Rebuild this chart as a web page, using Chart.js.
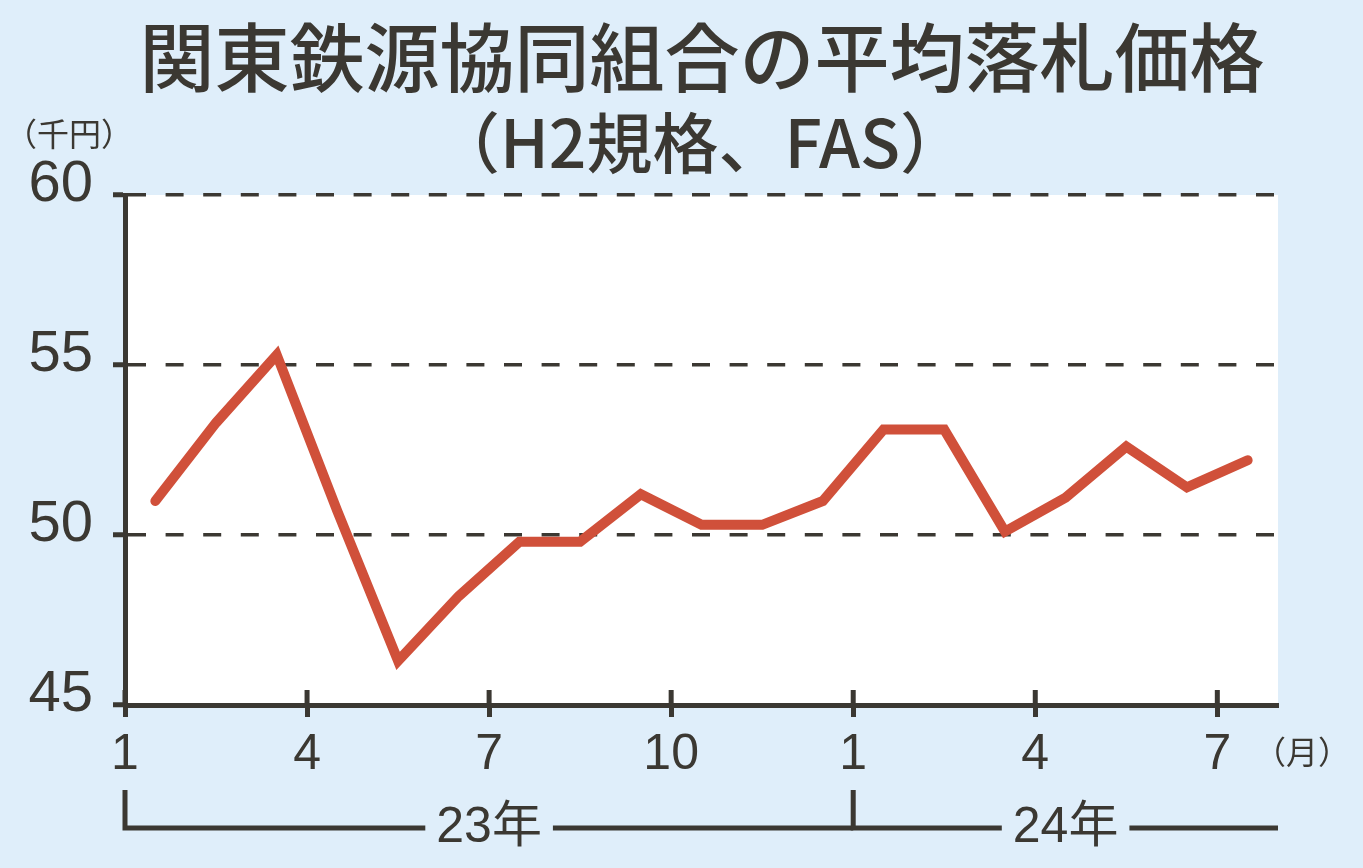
<!DOCTYPE html>
<html lang="ja">
<head>
<meta charset="utf-8">
<title>関東鉄源協同組合の平均落札価格</title>
<script src="https://cdn.jsdelivr.net/npm/chart.js@4.4.1/dist/chart.umd.min.js"></script>
<style>
  html, body { margin: 0; padding: 0; background: #dfeefa; }
  canvas { display: block; }
</style>
</head>
<body>
<canvas id="chart" width="1363" height="868"></canvas>
<script>
// monthly average winning bid, thousand yen per ton
const months = ['2023-01', '2023-02', '2023-03', '2023-04', '2023-05', '2023-06',
                '2023-07', '2023-08', '2023-09', '2023-10', '2023-11', '2023-12',
                '2024-01', '2024-02', '2024-03', '2024-04', '2024-05', '2024-06', '2024-07'];
const prices = [51.0, 53.3, 55.3, 50.7, 46.3, 48.2, 49.8, 49.8, 51.2, 50.3, 50.3, 51.0,
                53.1, 53.1, 50.1, 51.1, 52.6, 51.4, 52.2];
const monthTicks = ['1', '4', '7', '10', '1', '4', '7'];
const years = ['23年', '24年'];
const yearStarts = [0, 12];
const yearEnds = [12, 19];

const BG = '#dfeefa';
const INK = '#3b3832';
const RED = '#d0503a';
const NUM = "'Liberation Sans Narrow', 'Liberation Sans', sans-serif";
const JP = "'Noto Sans CJK JP', sans-serif";

function line(ctx, x1, y1, x2, y2) {
    ctx.beginPath();
    ctx.moveTo(x1, y1);
    ctx.lineTo(x2, y2);
    ctx.stroke();
}

const decor = {
    id: 'decor',
    beforeDraw(chart) {
        const { ctx, chartArea: a } = chart;
        ctx.save();
        ctx.fillStyle = BG;
        ctx.fillRect(0, 0, chart.width, chart.height);
        ctx.fillStyle = '#ffffff';
        ctx.fillRect(a.left, a.top, a.right - a.left, a.bottom - a.top);
        ctx.restore();
    },
    beforeDatasetsDraw(chart) {
        // month ticks also poke up into the plot
        const { ctx, chartArea: a, scales: { x } } = chart;
        ctx.save();
        ctx.strokeStyle = INK;
        ctx.lineWidth = 5;
        x.ticks.forEach(t => {
            const px = x.getPixelForValue(t.value);
            line(ctx, px, a.bottom - 15, px, a.bottom);
        });
        ctx.restore();
    },
    afterDraw(chart) {
        const { ctx, scales: { x } } = chart;
        ctx.save();
        ctx.fillStyle = INK;
        ctx.textAlign = 'center';
        ctx.textBaseline = 'middle';

        ctx.font = `500 75px ${JP}`;
        ctx.fillText('関東鉄源協同組合の平均落札価格', 702, 57);
        ctx.font = `500 66px ${JP}`;
        ctx.fillText('（H2規格、FAS）', 700, 143);

        ctx.font = `32px ${JP}`;
        ctx.fillText('（千円）', 69, 134);
        ctx.fillText('（月）', 1302, 752);

        // year brackets under the month axis
        const by = 828;
        ctx.strokeStyle = INK;
        ctx.lineWidth = 5;
        ctx.lineJoin = 'miter';
        ctx.font = `50px 'Liberation Sans', 'Noto Sans CJK JP'`;
        years.forEach((label, i) => {
            const x0 = x.getPixelForValue(yearStarts[i]);
            const x1 = x.getPixelForValue(yearEnds[i]);
            const mid = (x0 + x1) / 2;
            const half = ctx.measureText(label).width / 2 + 11;
            ctx.beginPath();
            ctx.moveTo(x0, by - 38);
            ctx.lineTo(x0, by);
            ctx.lineTo(mid - half, by);
            ctx.stroke();
            line(ctx, mid + half, by, x1, by);
            ctx.fillText(label, mid, by);
        });
        ctx.restore();
    }
};

new Chart(document.getElementById('chart'), {
    type: 'line',
    data: {
        datasets: [{
            data: months.map((m, i) => ({ x: i + 0.5, y: prices[i] })),
            borderColor: RED,
            borderWidth: 10,
            borderJoinStyle: 'miter',
            borderCapStyle: 'round',
            pointRadius: 0,
            tension: 0,
            clip: false
        }]
    },
    options: {
        responsive: false,
        devicePixelRatio: 1,
        animation: false,
        layout: { padding: { top: 195, right: 85, bottom: 0, left: 0 } },
        plugins: {
            legend: { display: false },
            tooltip: { enabled: false }
        },
        scales: {
            x: {
                type: 'linear',
                position: 'bottom',
                min: 0,
                max: 19,
                grid: { drawOnChartArea: false, tickLength: 12, tickWidth: 5, tickColor: INK },
                border: { color: INK, width: 5 },
                ticks: {
                    stepSize: 3,
                    includeBounds: false,
                    autoSkip: false,
                    maxRotation: 0,
                    padding: 8,
                    color: INK,
                    font: { family: NUM, size: 50 },
                    callback: (v, i) => monthTicks[i]
                },
                afterFit(s) { s.height = 163; }
            },
            y: {
                min: 45,
                max: 60,
                grid: { color: INK, lineWidth: 3.5, tickLength: 12, tickWidth: 5, tickColor: INK },
                border: { color: INK, width: 5, dash: [18, 19.6] },
                ticks: {
                    stepSize: 5,
                    padding: 20,
                    labelOffset: -10,
                    color: INK,
                    font: { family: NUM, size: 58 }
                },
                afterFit(s) { s.width = 125; }
            }
        }
    },
    plugins: [decor]
});
</script>
</body>
</html>
